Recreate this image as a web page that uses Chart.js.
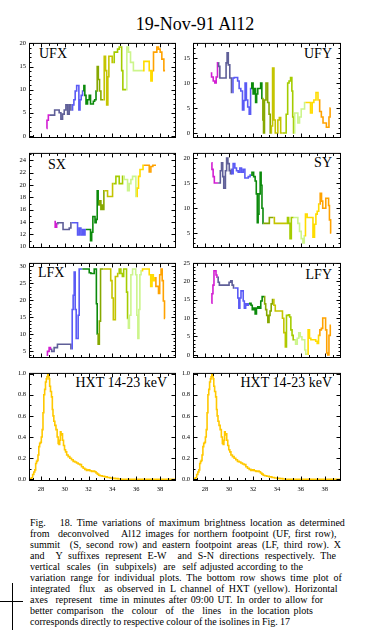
<!DOCTYPE html>
<html>
<head>
<meta charset="utf-8">
<script src="https://cdn.jsdelivr.net/npm/chart.js@4.4.1/dist/chart.umd.min.js"></script>
<style>
  html, body { margin: 0; padding: 0; background: #fff; }
  #page { position: relative; width: 373px; height: 630px; overflow: hidden; background: #fff;
          font-family: "Liberation Serif", "Times New Roman", serif; color: #000; }
  #page canvas { position: absolute; }
  .title { position: absolute; left: 0; width: 390px; top: 15px; text-align: center; font-size: 18px; line-height: 18px; }
  .lbl { position: absolute; font-size: 14px; line-height: 14px; white-space: nowrap; }
  .cap { position: absolute; left: 30px; top: 517px; font-size: 10px; line-height: 11px; }
  .cap div { white-space: pre; }
  .hair { position: absolute; background: #000; }
</style>
</head>
<body>
<div id="page">
  <div class="title">19-Nov-91 Al12</div>

  <div class="lbl" style="left:39px; top:46.5px">UFX</div>
  <div class="lbl" style="right:41px; top:46.5px">UFY</div>
  <div class="lbl" style="left:48px; top:157.5px">SX</div>
  <div class="lbl" style="right:41px; top:156px">SY</div>
  <div class="lbl" style="left:38px; top:266px">LFX</div>
  <div class="lbl" style="right:41px; top:267.5px">LFY</div>
  <div class="lbl" style="right:206px; top:376px">HXT 14-23 keV</div>
  <div class="lbl" style="right:41px; top:376px">HXT 14-23 keV</div>

  <div class="cap" id="caption">
    <div>Fig.   18. Time variations of maximum brightness location as determined</div>
    <div>from  deconvolved   Al12 images for northern footpoint (UF, first row),</div>
    <div>summit  (S, second row) and eastern footpoint areas (LF, third row). X</div>
    <div>and  Y suffixes represent E-W  and S-N directions respectively. The</div>
    <div>vertical  scales  (in  subpixels)  are  self adjusted according to the</div>
    <div>variation range for individual plots. The bottom row shows time plot of</div>
    <div>integrated  flux  as observed in L channel of HXT (yellow). Horizontal</div>
    <div>axes  represent  time in minutes after 09:00 UT. In order to allow for</div>
    <div>better comparison  the  colour  of  the  lines  in the location plots</div>
    <div>corresponds directly to respective colour of the isolines in Fig. 17</div>
  </div>

  <div class="hair" style="left:0; top:601px; width:23px; height:1px"></div>
  <div class="hair" style="left:12px; top:583px; width:1px; height:47px"></div>
</div>

<script>
// =========================
// DATA (time in minutes after 09:00 UT)
// =========================
const xLabels = [28, 30, 32, 34, 36, 38];
const xMinor = [27.33, 28.67, 29.33, 30.67, 31.33, 32.67, 33.33, 34.67, 35.33, 36.67, 37.33, 38.67];

// colour sequence of the isolines (Fig. 17)
const palette = ["#d21ed2", "#5f5f98", "#5a5af5", "#0b8a0b", "#86a800",
                 "#c4c400", "#a4cc00", "#ccf58c", "#ffdc00", "#ffa200"];

const ufxT = [28.48, 28.54, 28.71, 28.76, 28.90, 29.04, 29.27, 29.46, 29.61, 29.75, 29.89, 30.03, 30.17, 30.31, 30.45,
  30.59, 30.73, 30.81, 30.95, 31.06, 31.15, 31.23, 31.34, 31.43, 31.57, 31.65, 31.73, 31.85, 31.99, 32.13,
  32.21, 32.35, 32.46, 32.57, 32.69, 32.77, 32.88, 32.97, 33.11, 33.25, 33.39, 33.47, 33.58, 33.67, 33.75,
  33.89, 34.09, 34.23, 34.37, 34.51, 34.65, 34.73, 34.84, 34.93, 35.15, 35.29, 35.43, 35.63, 35.91, 36.10,
  36.33, 36.55, 36.75, 37.03, 37.17, 37.31, 37.39, 37.53, 37.67, 37.81, 37.95, 38.09, 38.23, 38.43];
const ufxV = [1.6, 3.4, 4.5, 4.5, 4.5, 4.5, 5.6, 5.6, 5.0, 3.6, 4.7, 5.6, 6.7, 4.7, 6.7,
  5.6, 6.7, 7.8, 9.7, 10.9, 10.9, 5.6, 7.8, 8.75, 9.7, 10.9, 8.75, 6.9, 7.8, 8.75,
  6.9, 6.9, 7.5, 7.8, 9.7, 15.0, 12.2, 9.7, 7.8, 7.8, 17.2, 14.1, 6.7, 12.8, 17.2,
  17.2, 15.9, 18.1, 18.1, 18.75, 19.2, 19.2, 14.1, 10.0, 10.0, 19.2, 18.1, 15.9, 14.1, 14.1,
  14.1, 14.1, 16.1, 16.1, 14.1, 11.9, 14.1, 18.1, 18.1, 19.2, 18.75, 18.1, 16.6, 14.1];
const ufxEdges = [28.83, 30.64, 31.61, 32.73, 33.32, 34.16, 35.22, 36.65, 37.46];
const ufxTicks = [0, 5, 10, 15, 20];

const ufyT = [28.48, 28.62, 28.76, 28.88, 28.99, 29.10, 29.18, 29.30, 29.44, 29.61, 29.72, 29.80, 29.89, 30.00, 30.14,
  30.28, 30.39, 30.50, 30.67, 30.78, 30.92, 31.06, 31.20, 31.29, 31.40, 31.51, 31.62, 31.76, 31.85, 31.96,
  32.07, 32.18, 32.27, 32.35, 32.46, 32.60, 32.69, 32.80, 32.86, 32.91, 33.02, 33.16, 33.30, 33.39, 33.50,
  33.58, 33.70, 33.81, 33.92, 34.01, 34.15, 34.26, 34.37, 34.48, 34.59, 34.71, 34.84, 34.96, 35.07, 35.21,
  35.29, 35.35, 35.43, 35.54, 35.68, 35.82, 35.96, 36.10, 36.24, 36.38, 36.61, 36.72, 36.89, 37.00, 37.17,
  37.36, 37.50, 37.64, 37.78, 37.92, 38.06, 38.20, 38.29, 38.40, 38.48];
const ufyV = [12, 11.2, 10.4, 10, 11.2, 14, 13.3, 11, 11, 11, 11, 14, 16, 13.6, 11,
  8.1, 11, 11.1, 11.1, 10.4, 8.9, 8.4, 4.6, 6.5, 10, 6.6, 5.2, 3.75, 8.9, 10,
  7.8, 8.9, 6.1, 7.8, 8.9, 8.9, 10, 6.9, 2.6, 0, 6.6, 10, 6.1, 3.75, 0,
  1.4, 13, 2.6, 0, 0, 2.6, 3.1, 0, 0, 0, 0, 3.75, 10, 10.4, 11.1,
  8.4, 3.2, 0, 4, 4, 2, 3.2, 4.8, 4.8, 6.1, 6.1, 6.1, 4, 6.1, 6.6,
  8.1, 6.6, 4.3, 3.2, 2, 2, 1.15, 1.15, 3.2, 5];
const ufyEdges = [29.13, 30.33, 31.82, 32.83, 33.53, 34.48, 35.44, 36.38, 37.56];
const ufyTicks = [0, 5, 10, 15];

const sxT = [29.13, 29.27, 29.38, 29.46, 29.66, 29.83, 29.89, 30.03, 30.31, 30.45,
  30.59, 30.73, 30.87, 31.01, 31.15, 31.29, 31.43, 31.57, 31.62, 31.79,
  31.99, 32.13, 32.21, 32.32, 32.41, 32.49, 32.60, 32.69, 32.77, 32.85,
  32.97, 33.11, 33.19, 33.25, 33.33, 33.41, 33.53, 33.67, 33.81, 33.95,
  34.09, 34.23, 34.37, 34.51, 34.65, 34.79, 34.93, 35.07, 35.21, 35.35,
  35.49, 35.63, 35.77, 35.91, 36.05, 36.13, 36.27, 36.38, 36.50, 36.66,
  36.83, 37.03, 37.17, 37.31, 37.50, 37.67];
const sxV = [14.07, 13.15, 13.75, 13.9, 13.9, 13.9, 12.8, 12.8, 12.8, 13.05,
  13.9, 13.9, 13.9, 13.9, 11.9, 13.05, 11.9, 12.8, 11.9, 12.8,
  12.8, 12.8, 10.97, 12.36, 14.9, 14.9, 13.9, 14.44, 19.07, 16.76,
  17.45, 16.06, 16.76, 16.06, 19.07, 19.07, 19.07, 18.15, 18.15, 18.15,
  20.23, 20.23, 21.4, 21.4, 20.23, 20.23, 21.4, 20.9, 20.9, 19.07,
  20.23, 20.9, 21.4, 21.4, 18.15, 19.5, 21.4, 22.5, 22.5, 23.2,
  23.2, 23.2, 22.1, 23.0, 23.2, 23.2];
const sxEdges = [29.42, 30.66, 31.71, 32.9, 33.35, 34.06, 34.98, 35.99, 36.6];
const sxTicks = [10, 12, 14, 16, 18, 20, 22, 24];

const syT = [28.54, 28.62, 28.74, 28.82, 28.96, 29.10, 29.24, 29.32, 29.44, 29.52,
  29.61, 29.66, 29.75, 29.86, 29.97, 30.08, 30.17, 30.22, 30.28, 30.42,
  30.56, 30.70, 30.84, 30.98, 31.12, 31.26, 31.40, 31.54, 31.68, 31.85,
  31.99, 32.13, 32.24, 32.32, 32.41, 32.46, 32.55, 32.66, 32.71, 32.80,
  32.88, 33.02, 33.16, 33.30, 33.44, 33.58, 33.72, 33.86, 34.00, 34.14,
  34.28, 34.42, 34.56, 34.70, 34.84, 34.93, 35.04, 35.15, 35.26, 35.40,
  35.54, 35.68, 35.82, 35.96, 36.10, 36.24, 36.33, 36.44, 36.61, 36.80,
  36.94, 37.08, 37.20, 37.31, 37.42, 37.56, 37.67, 37.78, 37.87, 38.01,
  38.15, 38.29, 38.34, 38.43, 38.54];
const syV = [19.04, 17.72, 16.29, 15.03, 15.03, 15.03, 15.03, 17.44, 19.04, 16.29,
  14.0, 14.0, 17.44, 20.0, 18.87, 17.44, 16.86, 17.72, 16.86, 18.87,
  18.0, 17.44, 17.15, 18.0, 17.15, 17.72, 16.0, 16.0, 16.29, 16.58,
  17.15, 16.29, 15.43, 12.85, 7.12, 8.84, 12.85, 17.15, 14.57, 9.99,
  7.0, 7.0, 7.0, 7.0, 8.15, 8.15, 8.15, 7.0, 7.0, 7.0,
  7.0, 7.0, 7.0, 7.0, 7.0, 8.15, 7.0, 3.97, 8.15, 8.15,
  8.15, 8.15, 7.0, 5.4, 3.97, 3.11, 4.54, 8.84, 8.15, 8.15,
  8.15, 4.26, 6.83, 8.84, 9.41, 10.85, 12.97, 11.42, 9.99, 9.99,
  11.99, 11.99, 10.56, 7.69, 5.11];
const syEdges = [29.17, 30.25, 31.8, 32.95, 33.79, 34.78, 35.34, 36.38, 37.5];
const syTicks = [5, 10, 15, 20];

const lfxT = [28.48, 28.62, 28.76, 28.85, 28.96, 29.04, 29.18, 29.32, 29.46, 29.61,
  29.75, 29.89, 30.03, 30.17, 30.31, 30.45, 30.59, 30.67, 30.75, 30.84,
  30.92, 31.01, 31.09, 31.17, 31.26, 31.37, 31.48, 31.57, 31.71, 31.85,
  31.99, 32.13, 32.27, 32.41, 32.55, 32.63, 32.69, 32.77, 32.85, 32.97,
  33.05, 33.13, 33.25, 33.39, 33.53, 33.67, 33.81, 33.92, 34.03, 34.14,
  34.23, 34.28, 34.39, 34.51, 34.65, 34.79, 34.90, 35.01, 35.15, 35.24,
  35.32, 35.38, 35.49, 35.63, 35.77, 35.91, 36.02, 36.10, 36.19, 36.27,
  36.36, 36.47, 36.61, 36.75, 36.89, 37.03, 37.17, 37.28, 37.39, 37.50,
  37.59, 37.73, 37.84, 37.92, 38.04, 38.15, 38.23, 38.34, 38.43];
const lfxV = [3.9, 5, 6.1, 5.6, 5, 5, 6.1, 6.1, 7.1, 7.1,
  7.1, 7.1, 7.1, 7.1, 7.1, 7.1, 5.8, 17.3, 21.5, 28.3,
  17.3, 8.8, 8.8, 15.6, 29.2, 29.2, 29.2, 29.2, 29.2, 29.2,
  29.2, 28.1, 27.9, 27.9, 29.2, 29.2, 19, 10.1, 7.1, 13.9,
  29.2, 29.2, 29.2, 29.2, 29.2, 29.2, 29.2, 25.8, 20.7, 14.3,
  14.3, 27, 27, 27.9, 29.2, 27.9, 27, 29.2, 29.2, 22.4,
  14.7, 11.8, 15.6, 27.5, 29.2, 29.2, 27.5, 15.6, 8.8, 17.3,
  27.5, 28.7, 29.2, 29.2, 29.2, 29.2, 27.5, 24.1, 27.5, 25.8,
  26.6, 24.1, 24.1, 22, 27.5, 29.2, 25.8, 19.8, 14.7];
const lfxEdges = [28.9, 30.53, 31.52, 32.81, 33.32, 34.58, 35.35, 36.54, 37.55];
const lfxTicks = [5, 10, 15, 20, 25, 30];

const lfyT = [28.54, 28.62, 28.71, 28.79, 28.88, 28.96, 29.04,
  29.16, 29.24, 29.38, 29.52, 29.66, 29.80, 29.94, 30.08, 30.22, 30.31,
  30.45, 30.59, 30.70, 30.78, 30.87, 30.95, 31.06, 31.15, 31.23, 31.34, 31.45, 31.57,
  31.68, 31.79, 31.90, 31.99, 32.13, 32.24, 32.35, 32.46, 32.60, 32.71, 32.83,
  32.94, 33.02, 33.11, 33.19, 33.30, 33.39, 33.47, 33.58, 33.69,
  33.81, 33.92, 34.03, 34.14, 34.28, 34.42, 34.51, 34.65, 34.76,
  34.84, 34.93, 35.01, 35.12, 35.21, 35.32, 35.40,
  35.49, 35.63, 35.77, 35.88, 36.02, 36.16, 36.27, 36.38, 36.44,
  36.55, 36.66, 36.78, 36.89, 37.03, 37.17, 37.31, 37.42,
  37.53, 37.64, 37.78, 37.87, 38.01, 38.12, 38.20, 38.29, 38.40, 38.51];
const lfyV = [14.03, 16.61, 18.97, 22.88, 22.88, 21.71, 21.08,
  19.75, 18.97, 18.97, 18.97, 18.97, 18.97, 18.97, 19.75, 20.14, 18.97,
  18.18, 18.18, 18.18, 15.44, 12.7, 15.44, 17.4, 17.4, 14.66, 12.7, 13.87, 13.48,
  13.87, 14.0, 13.48, 12.3, 12.7, 11.13, 12.7, 13.09, 12.7, 14.66, 15.83,
  15.83, 13.87, 12.3, 10.74, 8.78, 10.74, 11.91, 13.87, 15.05,
  13.48, 11.91, 11.91, 11.91, 11.91, 11.91, 9.95, 6.03, 2.12,
  10.74, 10.74, 10.9, 10.3, 6.8, 5.3, 4.1,
  4.1, 2.9, 4.5, 6.0, 4.9, 4.1, 4.1, 1.3, 0.2,
  0.2, 6.8, 4.5, 4.1, 4.1, 4.1, 3.7, 3.1,
  5.3, 6.8, 7.2, 10.0, 10.0, 6.8, 0.5, 0.0, 5.3, 8.0];
const lfyEdges = [29.1, 30.43, 31.68, 32.94, 33.75, 34.8, 35.46, 36.55, 37.48];
const lfyTicks = [0, 5, 10, 15, 20, 25];

// HXT 14-23 keV integrated flux (normalised)
const hxtT = [27.00, 27.14, 27.25, 27.36, 27.45, 27.53, 27.59, 27.67, 27.73, 27.78,
  27.87, 27.92, 28.01, 28.06, 28.15, 28.20, 28.29, 28.34, 28.43, 28.48,
  28.54, 28.60, 28.65, 28.71, 28.76, 28.85, 28.93, 28.99, 29.04, 29.13,
  29.21, 29.32, 29.41, 29.49, 29.55, 29.61, 29.66, 29.72, 29.77, 29.86,
  29.94, 30.03, 30.11, 30.22, 30.36, 30.50, 30.64, 30.78, 30.92, 31.06,
  31.20, 31.34, 31.48, 31.62, 31.76, 31.90, 32.04, 32.18, 32.32, 32.46,
  32.57, 32.69, 32.80, 32.91, 33.05, 33.25, 33.47, 33.69, 33.92, 34.14,
  34.37, 34.59, 34.82, 39.35];
const hxtV = [0, 0.005, 0.015, 0.046, 0.07, 0.09, 0.15, 0.17, 0.18, 0.23,
  0.31, 0.34, 0.35, 0.4, 0.47, 0.63, 0.8, 0.85, 0.92, 0.95,
  0.97, 1.0, 0.99, 0.95, 0.88, 0.83, 0.78, 0.66, 0.6, 0.55,
  0.51, 0.47, 0.4, 0.34, 0.33, 0.37, 0.45, 0.42, 0.43, 0.37,
  0.32, 0.28, 0.26, 0.23, 0.215, 0.2, 0.185, 0.17, 0.165, 0.155,
  0.145, 0.14, 0.12, 0.105, 0.095, 0.085, 0.09, 0.082, 0.075, 0.08,
  0.072, 0.06, 0.05, 0.04, 0.035, 0.03, 0.024, 0.018, 0.014, 0.01,
  0.007, 0.004, 0, 0];
const hxtTicks = [0, 0.2, 0.4, 0.6, 0.8, 1.0];

// =========================
// LAYOUT
// =========================
const COL_LEFT = [29, 193];
const COL_W = [147, 148];
const ROW_TOP = [41, 151, 261, 371];
const PLOT_H = 110;
const AXW = 24, PAD = 5, XAXH = 13;
const X_MIN = 27, X_MAX = 39.35;
const tickFont = { family: "Liberation Serif", size: 6.5 };

function bandColor(edges, x) {
  let i = 0;
  while (i < edges.length && x >= edges[i]) i++;
  return palette[i];
}

// frame + inward tick marks, like the original plots
const framePlugin = {
  id: "frame",
  afterDatasetsDraw(chart, args, opts) {
    const { ctx, chartArea: a, scales } = chart;
    const L = a.left + 0.5, R = a.right - 0.5, T = a.top + 0.5, B = a.bottom - 0.5;
    ctx.save();
    ctx.strokeStyle = "#000";
    ctx.lineWidth = 1;
    ctx.strokeRect(L, T, R - L, B - T);
    ctx.beginPath();
    const yTick = (v, len) => {
      const py = Math.round(scales.y.getPixelForValue(v)) + 0.5;
      if (py < T || py > B) return;
      ctx.moveTo(L, py); ctx.lineTo(L + len, py);
      ctx.moveTo(R, py); ctx.lineTo(R - len, py);
    };
    const xTick = (v, len) => {
      const px = Math.round(scales.x.getPixelForValue(v)) + 0.5;
      if (px < L || px > R) return;
      ctx.moveTo(px, T); ctx.lineTo(px, T + len);
      ctx.moveTo(px, B); ctx.lineTo(px, B - len);
    };
    opts.yMajor.forEach((v) => yTick(v, 4));
    opts.yMinor.forEach((v) => yTick(v, 2));
    xLabels.forEach((v) => xTick(v, 4));
    xMinor.forEach((v) => xTick(v, 2.5));
    ctx.stroke();
    ctx.restore();
  },
};

const panels = [
  { col: 0, row: 0, t: ufxT, v: ufxV, edges: ufxEdges, min: -0.45, max: 20.1, ticks: ufxTicks, minor: 1 },
  { col: 1, row: 0, t: ufyT, v: ufyV, edges: ufyEdges, min: -1.0, max: 18.0, ticks: ufyTicks, minor: 1 },
  { col: 0, row: 1, t: sxT, v: sxV, edges: sxEdges, min: 9.8, max: 25.2, ticks: sxTicks, minor: 1 },
  { col: 1, row: 1, t: syT, v: syV, edges: syEdges, min: 2.1, max: 21.0, ticks: syTicks, minor: 1 },
  { col: 0, row: 2, t: lfxT, v: lfxV, edges: lfxEdges, min: 3.05, max: 31.0, ticks: lfxTicks, minor: 1 },
  { col: 1, row: 2, t: lfyT, v: lfyV, edges: lfyEdges, min: -0.86, max: 25.0, ticks: lfyTicks, minor: 1 },
  { col: 0, row: 3, t: hxtT, v: hxtV, color: "#ffc800", min: -0.015, max: 1.006, ticks: hxtTicks, minor: 0.1, fixed: 1 },
  { col: 1, row: 3, t: hxtT, v: hxtV, color: "#ffc800", min: -0.015, max: 1.006, ticks: hxtTicks, minor: 0.1, fixed: 1 },
];

const page = document.getElementById("page");

function buildPanel(p) {
  const last = p.row === 3;
  const plotLeft = COL_LEFT[p.col];
  const w = AXW + COL_W[p.col] + PAD;
  const h = PAD + PLOT_H + (last ? XAXH : 0) + PAD;
  const cv = document.createElement("canvas");
  cv.width = w;
  cv.height = h;
  cv.style.left = plotLeft - AXW + "px";
  cv.style.top = ROW_TOP[p.row] - PAD + "px";
  cv.style.width = w + "px";
  cv.style.height = h + "px";
  page.appendChild(cv);

  const minor = [];
  for (let k = Math.ceil(p.min / p.minor); k * p.minor <= p.max; k++) {
    const v = +(k * p.minor).toFixed(3);
    if (!p.ticks.includes(v)) minor.push(v);
  }

  const ds = {
    data: p.t.map((t, i) => ({ x: t, y: p.v[i] })),
    borderColor: p.color || palette[0],
    borderWidth: 1.6,
    pointRadius: 0,
    stepped: "middle",
  };
  if (p.edges) {
    ds.segment = { borderColor: (c) => bandColor(p.edges, (c.p0.parsed.x + c.p1.parsed.x) / 2) };
  }

  new Chart(cv.getContext("2d"), {
    type: "line",
    data: { datasets: [ds] },
    plugins: [framePlugin],
    options: {
      responsive: false,
      animation: false,
      devicePixelRatio: 1,
      events: [],
      layout: { padding: { left: 0, right: PAD, top: PAD, bottom: PAD } },
      plugins: {
        legend: { display: false },
        tooltip: { enabled: false },
        frame: { yMajor: p.ticks, yMinor: minor },
      },
      scales: {
        x: {
          type: "linear",
          min: X_MIN,
          max: X_MAX,
          display: last,
          afterBuildTicks: (s) => { s.ticks = xLabels.map((v) => ({ value: v })); },
          afterFit: (s) => { s.height = XAXH; },
          grid: { display: false, drawTicks: false },
          border: { display: false },
          ticks: { font: tickFont, color: "#000", padding: 4, maxRotation: 0, autoSkip: false },
        },
        y: {
          type: "linear",
          min: p.min,
          max: p.max,
          afterBuildTicks: (s) => { s.ticks = p.ticks.map((v) => ({ value: v })); },
          afterFit: (s) => { s.width = AXW; },
          grid: { display: false, drawTicks: false },
          border: { display: false },
          ticks: {
            font: tickFont,
            color: "#000",
            padding: 3,
            autoSkip: false,
            callback: (v) => (p.fixed ? v.toFixed(p.fixed) : v),
          },
        },
      },
    },
  });
}

panels.forEach(buildPanel);

// =========================
// CAPTION: stretch each line to the width it has in the figure
// =========================
const capWidths = [315, 307, 311, 307, 273, 312, 308, 293, 283, 260];
const mctx = document.createElement("canvas").getContext("2d");
mctx.font = '10px "Liberation Serif"';
document.querySelectorAll("#caption div").forEach((el, i) => {
  const txt = el.textContent;
  const spaces = (txt.match(/ /g) || []).length;
  const natural = mctx.measureText(txt).width;
  if (spaces) el.style.wordSpacing = (capWidths[i] - natural) / spaces + "px";
});
</script>
</body>
</html>
